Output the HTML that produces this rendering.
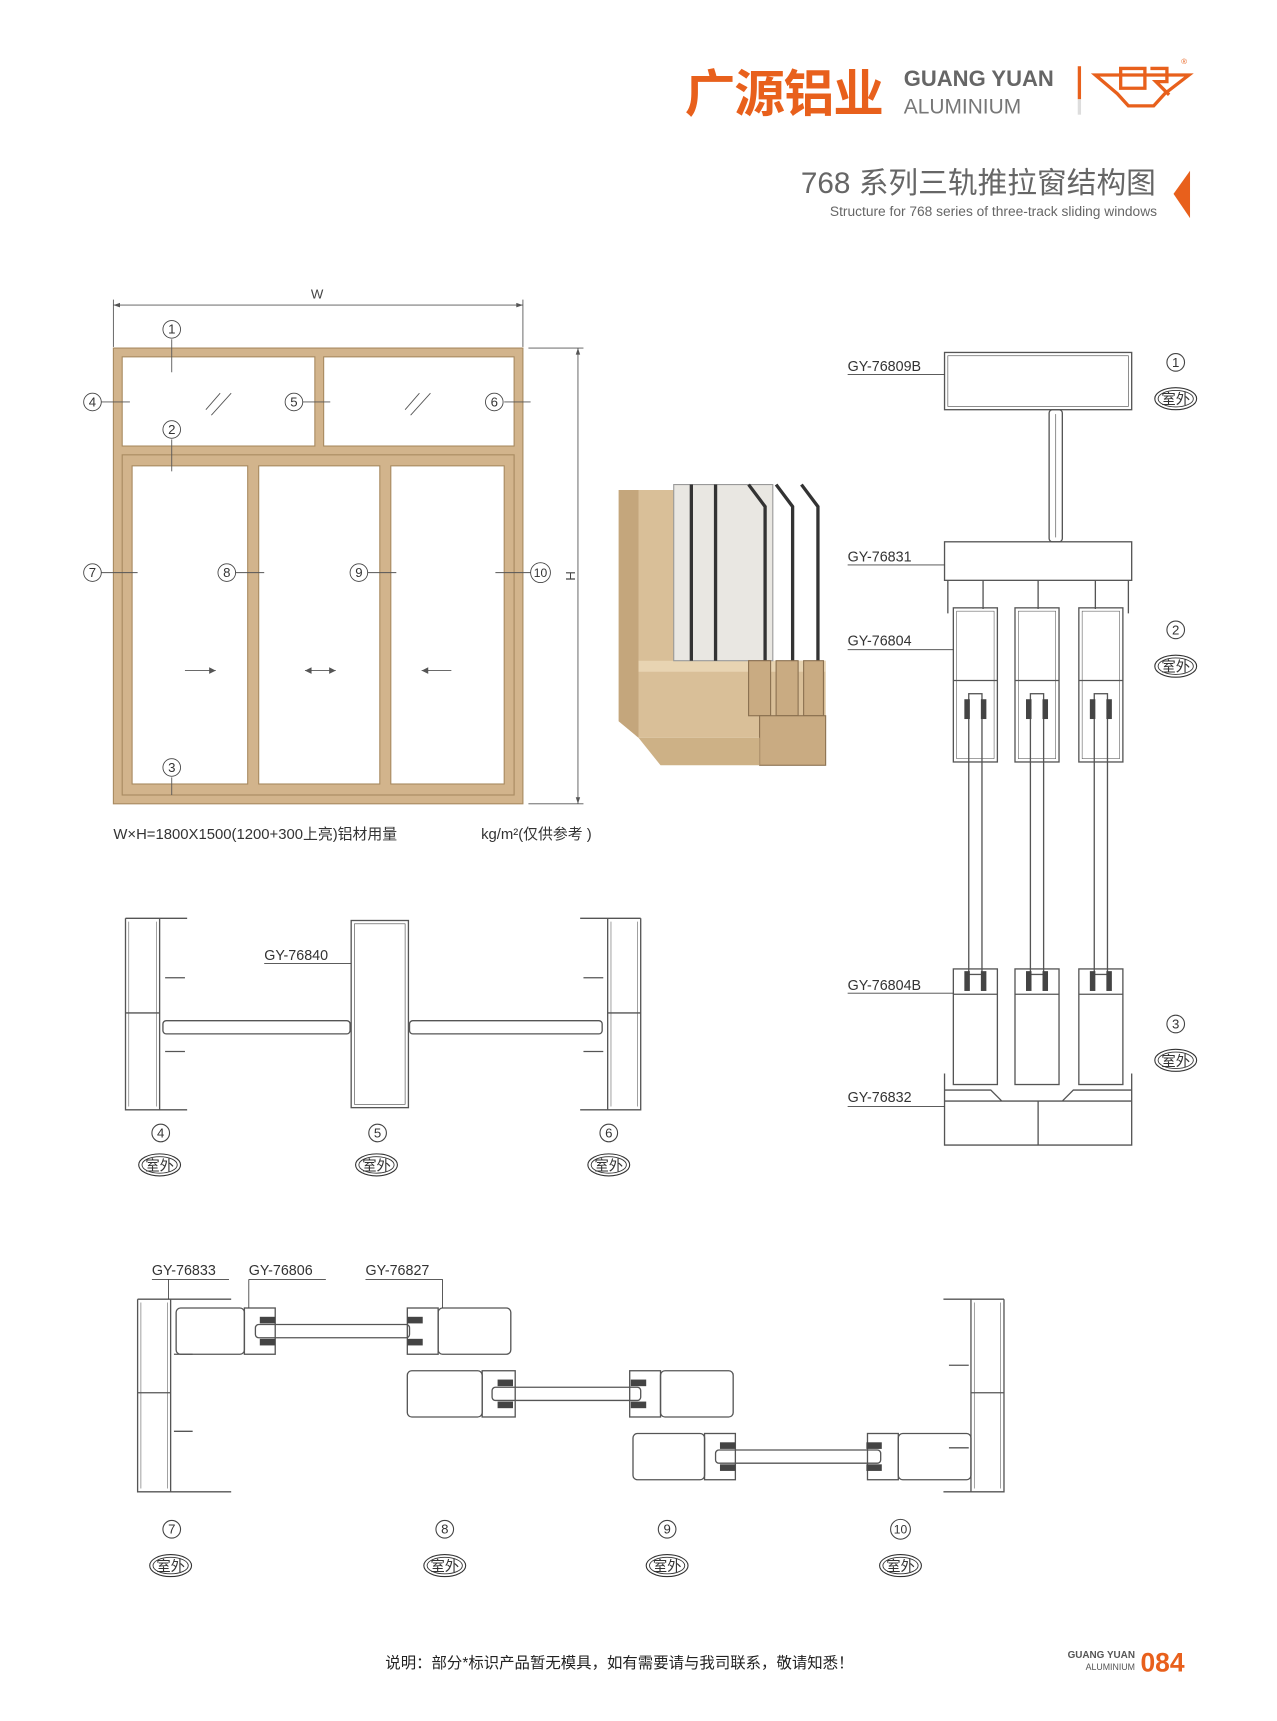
<!DOCTYPE html>
<html><head><meta charset="utf-8"><style>
html,body{margin:0;padding:0;background:#fff}
svg{display:block}
text{font-family:"Liberation Sans","Noto Sans CJK SC",sans-serif}
</style></head><body>
<svg width="1277" height="1721" viewBox="0 0 1160 1563" xmlns="http://www.w3.org/2000/svg">
<defs>
<g id="sw"><ellipse cx="0" cy="0" rx="19" ry="10" fill="#fff" stroke="#333" stroke-width="1"/><ellipse cx="0" cy="0" rx="16" ry="7.5" fill="none" stroke="#333" stroke-width="0.8"/><text x="0" y="5" font-size="13" text-anchor="middle" fill="#333">室外</text></g>
</defs>
<!-- header -->
<text x="622" y="101" font-size="46" font-weight="bold" fill="#e8601c" font-family="'Noto Sans CJK SC',sans-serif" letter-spacing="-1">广源铝业</text>
<text x="821" y="78" font-size="20" font-weight="bold" fill="#666">GUANG YUAN</text>
<text x="821" y="103" font-size="19" fill="#777">ALUMINIUM</text>
<rect x="979" y="60" width="3" height="30" fill="#e8601c"/><rect x="979" y="90" width="3" height="14" fill="#ddd"/>
<g fill="none" stroke="#e8601c" stroke-width="3"><path d="M995 68 L1080 68 L1058 85 L1048 96 L1025 96 L1015 85 Z"/><path d="M1018 62 L1040 62 L1040 80 L1018 80 Z"/><path d="M1045 62 L1060 62 L1060 74 L1050 74 L1062 86"/></g>
<text x="1073" y="58" font-size="7" fill="#e8601c">®</text>
<text x="1050" y="175" font-size="27" fill="#666" text-anchor="end">768 系列三轨推拉窗结构图</text>
<text x="1051" y="196" font-size="12.5" fill="#666" text-anchor="end">Structure for 768 series of  three-track sliding windows</text>
<path d="M1081 155 L1066 176 L1081 198 Z" fill="#e8601c"/>

<!-- elevation -->
<g stroke="#555" stroke-width="0.8" fill="none">
<line x1="103" y1="272" x2="103" y2="315"/><line x1="475" y1="272" x2="475" y2="315"/>
<line x1="103" y1="277" x2="475" y2="277"/>
<line x1="480" y1="316" x2="530" y2="316"/><line x1="480" y1="730" x2="530" y2="730"/>
<line x1="525" y1="316" x2="525" y2="730"/>
</g>
<path d="M103 277 l6 -2 v4z M475 277 l-6 -2 v4z M525 316 l-2 6 h4z M525 730 l-2 -6 h4z" fill="#555"/>
<text x="288" y="271" font-size="12" fill="#444" text-anchor="middle">W</text>
<text x="514" y="523" font-size="12" fill="#444" transform="rotate(90 514 523)" text-anchor="middle">H</text>
<rect x="103" y="316" width="372" height="414" fill="#d2b48c" stroke="#a88a60"/>
<rect x="111" y="324" width="175" height="81" fill="#fff" stroke="#a88a60"/>
<rect x="294" y="324" width="173" height="81" fill="#fff" stroke="#a88a60"/>
<rect x="111" y="413" width="356" height="309" fill="#d2b48c" stroke="#a88a60"/>
<rect x="120" y="423" width="105" height="289" fill="#fff" stroke="#a88a60"/>
<rect x="235" y="423" width="110" height="289" fill="#fff" stroke="#a88a60"/>
<rect x="355" y="423" width="103" height="289" fill="#fff" stroke="#a88a60"/>
<g stroke="#555" stroke-width="0.8"><line x1="187" y1="372" x2="200" y2="357"/><line x1="192" y1="377" x2="210" y2="357"/><line x1="368" y1="372" x2="381" y2="357"/><line x1="373" y1="377" x2="391" y2="357"/>
<line x1="92" y1="365" x2="118" y2="365"/><line x1="275" y1="365" x2="300" y2="365"/><line x1="458" y1="365" x2="482" y2="365"/>
<line x1="156" y1="308" x2="156" y2="338"/><line x1="156" y1="399" x2="156" y2="428"/><line x1="156" y1="706" x2="156" y2="722"/>
<line x1="92" y1="520" x2="125" y2="520"/><line x1="214" y1="520" x2="240" y2="520"/><line x1="334" y1="520" x2="360" y2="520"/><line x1="450" y1="520" x2="482" y2="520"/>
<line x1="168" y1="609" x2="196" y2="609"/><line x1="277" y1="609" x2="305" y2="609"/><line x1="383" y1="609" x2="410" y2="609"/></g>
<path d="M196 609 l-6 -3 v6z M277 609 l6 -3 v6z M305 609 l-6 -3 v6z M383 609 l6 -3 v6z" fill="#555"/>
<g font-size="12" fill="#333" text-anchor="middle">
<g fill="#fff" stroke="#444" stroke-width="0.8"><circle cx="156" cy="299" r="8"/><circle cx="84" cy="365" r="8"/><circle cx="267" cy="365" r="8"/><circle cx="449" cy="365" r="8"/><circle cx="156" cy="390" r="8"/><circle cx="84" cy="520" r="8"/><circle cx="206" cy="520" r="8"/><circle cx="326" cy="520" r="8"/><circle cx="491" cy="520" r="9"/><circle cx="156" cy="697" r="8"/></g>
<text x="156" y="303">1</text><text x="84" y="369">4</text><text x="267" y="369">5</text><text x="449" y="369">6</text><text x="156" y="394">2</text><text x="84" y="524">7</text><text x="206" y="524">8</text><text x="326" y="524">9</text><text x="491" y="524" font-size="11">10</text><text x="156" y="701">3</text>
</g>
<text x="103" y="762" font-size="13.5" fill="#333">W×H=1800X1500(1200+300上亮)铝材用量</text>
<text x="437" y="762" font-size="13.5" fill="#333">kg/m²(仅供参考 )</text>

<!-- 3D corner -->
<polygon points="562,445 612,445 612,600 750,600 750,670 580,670 562,655" fill="#d9bf98"/>
<polygon points="562,445 580,445 580,670 562,655" fill="#c4a67c"/>
<polygon points="580,600 750,600 750,610 580,610" fill="#e8d4b2"/>
<rect x="612" y="440" width="90" height="160" fill="#e9e7e2" stroke="#999"/>
<g fill="none" stroke="#333" stroke-width="3"><path d="M628 440 V600"/><path d="M650 440 V600"/><path d="M680 440 L695 460 V615"/><path d="M705 440 L720 460 V615"/><path d="M728 440 L743 460 V615"/></g>
<g fill="#c9ab82" stroke="#8a7050"><rect x="680" y="600" width="20" height="50"/><rect x="705" y="600" width="20" height="50"/><rect x="730" y="600" width="18" height="50"/><rect x="690" y="650" width="60" height="45"/></g>
<polygon points="580,670 690,670 690,695 600,695" fill="#cdb186"/>

<!-- right vertical section -->
<g fill="none" stroke="#555" stroke-width="1.2">
<rect x="858" y="320" width="170" height="52"/><rect x="861" y="323" width="164" height="46" stroke-width="0.6"/>
<rect x="953" y="372" width="12" height="120" rx="3"/><line x1="959" y1="376" x2="959" y2="488" stroke-width="0.6"/>
<rect x="858" y="492" width="170" height="35"/>
<path d="M861 527 V557 M1025 527 V557 M893 527 V553 M943 527 V553 M995 527 V553"/>
<rect x="866" y="552" width="40" height="140"/><rect x="922" y="552" width="40" height="140"/><rect x="980" y="552" width="40" height="140"/>
<rect x="869" y="555" width="34" height="134" stroke-width="0.5"/><rect x="925" y="555" width="34" height="134" stroke-width="0.5"/><rect x="983" y="555" width="34" height="134" stroke-width="0.5"/>
<path d="M866 618 H906 M922 618 H962 M980 618 H1020"/>
<rect x="880" y="630" width="12" height="255"/><rect x="936" y="630" width="12" height="255"/><rect x="994" y="630" width="12" height="255"/>
<rect x="866" y="880" width="40" height="105"/><rect x="922" y="880" width="40" height="105"/><rect x="980" y="880" width="40" height="105"/>
<path d="M866 903 H906 M922 903 H962 M980 903 H1020"/>
<path d="M858 975 V1040 H1028 V975 M858 1000 H1028 M943 1000 V1040 M858 990 H900 L910 1000 M1028 990 H975 L965 1000"/>
</g>
<g fill="#444"><rect x="876" y="635" width="5" height="18"/><rect x="891" y="635" width="5" height="18"/><rect x="932" y="635" width="5" height="18"/><rect x="947" y="635" width="5" height="18"/><rect x="990" y="635" width="5" height="18"/><rect x="1005" y="635" width="5" height="18"/>
<rect x="876" y="882" width="5" height="18"/><rect x="891" y="882" width="5" height="18"/><rect x="932" y="882" width="5" height="18"/><rect x="947" y="882" width="5" height="18"/><rect x="990" y="882" width="5" height="18"/><rect x="1005" y="882" width="5" height="18"/></g>
<g stroke="#444" stroke-width="0.8"><line x1="770" y1="340" x2="858" y2="340"/><line x1="770" y1="513" x2="858" y2="513"/><line x1="770" y1="590" x2="866" y2="590"/><line x1="770" y1="902" x2="866" y2="902"/><line x1="770" y1="1005" x2="858" y2="1005"/></g>
<g font-size="13" fill="#333"><text x="770" y="337">GY-76809B</text><text x="770" y="510">GY-76831</text><text x="770" y="586">GY-76804</text><text x="770" y="899">GY-76804B</text><text x="770" y="1001">GY-76832</text></g>
<g fill="none" stroke="#444"><circle cx="1068" cy="329" r="8"/><circle cx="1068" cy="572" r="8"/><circle cx="1068" cy="930" r="8"/></g>
<g font-size="12" fill="#333" text-anchor="middle"><text x="1068" y="333">1</text><text x="1068" y="576">2</text><text x="1068" y="934">3</text></g>
<use href="#sw" x="1068" y="362"/><use href="#sw" x="1068" y="605"/><use href="#sw" x="1068" y="963"/>

<!-- middle horizontal sections -->
<g fill="none" stroke="#555" stroke-width="1.2">
<path d="M114 834 H170 M114 834 V1008 H170 M145 834 V1008 M114 920 H145 M150 888 H168 M150 955 H168"/>
<path d="M117 837 V1005 M142 837 V1005" stroke-width="0.5"/>
<rect x="148" y="927" width="170" height="12" rx="3"/>
<rect x="319" y="836" width="52" height="170"/><rect x="322" y="839" width="46" height="164" stroke-width="0.6"/>
<rect x="372" y="927" width="175" height="12" rx="3"/>
<path d="M582 834 H527 M582 834 V1008 H527 M552 834 V1008 M552 920 H582 M530 888 H548 M530 955 H548"/>
<path d="M555 837 V1005 M579 837 V1005" stroke-width="0.5"/>
</g>
<line x1="240" y1="875" x2="319" y2="875" stroke="#444" stroke-width="0.8"/>
<text x="240" y="872" font-size="13" fill="#333">GY-76840</text>
<g fill="none" stroke="#444"><circle cx="146" cy="1029" r="8"/><circle cx="343" cy="1029" r="8"/><circle cx="553" cy="1029" r="8"/></g>
<g font-size="12" fill="#333" text-anchor="middle"><text x="146" y="1033">4</text><text x="343" y="1033">5</text><text x="553" y="1033">6</text></g>
<use href="#sw" x="145" y="1058"/><use href="#sw" x="342" y="1058"/><use href="#sw" x="553" y="1058"/>

<!-- bottom horizontal sections -->
<g fill="none" stroke="#555" stroke-width="1.2">
<path d="M125 1180 H210 M125 1180 V1355 H210 M155 1180 V1355 M125 1265 H155 M158 1230 H175 M158 1300 H175"/>
<path d="M128 1183 V1352 M152 1183 V1352" stroke-width="0.5"/>
<rect x="160" y="1188" width="62" height="42" rx="4"/><rect x="222" y="1188" width="28" height="42"/>
<rect x="232" y="1203" width="140" height="12" rx="3"/>
<rect x="370" y="1188" width="28" height="42"/><rect x="398" y="1188" width="66" height="42" rx="4"/>
<rect x="370" y="1245" width="68" height="42" rx="4"/><rect x="438" y="1245" width="30" height="42"/>
<rect x="447" y="1260" width="135" height="12" rx="3"/>
<rect x="572" y="1245" width="28" height="42"/><rect x="600" y="1245" width="66" height="42" rx="4"/>
<rect x="575" y="1302" width="65" height="42" rx="4"/><rect x="640" y="1302" width="28" height="42"/>
<rect x="650" y="1317" width="150" height="12" rx="3"/>
<rect x="788" y="1302" width="28" height="42"/><rect x="816" y="1302" width="66" height="42" rx="4"/>
<path d="M912 1180 H857 M912 1180 V1355 H857 M882 1180 V1355 M882 1265 H912 M862 1240 H880 M862 1315 H880"/>
<path d="M885 1183 V1352 M909 1183 V1352" stroke-width="0.5"/>
</g>
<g fill="#444"><rect x="236" y="1196" width="14" height="6"/><rect x="236" y="1216" width="14" height="6"/><rect x="370" y="1196" width="14" height="6"/><rect x="370" y="1216" width="14" height="6"/>
<rect x="452" y="1253" width="14" height="6"/><rect x="452" y="1273" width="14" height="6"/><rect x="573" y="1253" width="14" height="6"/><rect x="573" y="1273" width="14" height="6"/>
<rect x="654" y="1310" width="14" height="6"/><rect x="654" y="1330" width="14" height="6"/><rect x="787" y="1310" width="14" height="6"/><rect x="787" y="1330" width="14" height="6"/></g>
<g stroke="#444" stroke-width="0.8"><line x1="138" y1="1162" x2="208" y2="1162"/><line x1="226" y1="1162" x2="296" y2="1162"/><line x1="332" y1="1162" x2="402" y2="1162"/><line x1="153" y1="1162" x2="153" y2="1180"/><line x1="226" y1="1162" x2="226" y2="1188"/><line x1="402" y1="1162" x2="402" y2="1188"/></g>
<g font-size="13" fill="#333"><text x="138" y="1158">GY-76833</text><text x="226" y="1158">GY-76806</text><text x="332" y="1158">GY-76827</text></g>
<g fill="none" stroke="#444"><circle cx="156" cy="1389" r="8"/><circle cx="404" cy="1389" r="8"/><circle cx="606" cy="1389" r="8"/><circle cx="818" cy="1389" r="9"/></g>
<g font-size="12" fill="#333" text-anchor="middle"><text x="156" y="1393">7</text><text x="404" y="1393">8</text><text x="606" y="1393">9</text><text x="818" y="1393" font-size="11">10</text></g>
<use href="#sw" x="155" y="1422"/><use href="#sw" x="404" y="1422"/><use href="#sw" x="606" y="1422"/><use href="#sw" x="818" y="1422"/>

<!-- footer -->
<text x="350" y="1515" font-size="14" fill="#222">说明：部分*标识产品暂无模具，如有需要请与我司联系，敬请知悉！</text>
<text x="1031" y="1506" font-size="9" font-weight="bold" fill="#555" text-anchor="end">GUANG YUAN</text>
<text x="1031" y="1517" font-size="8" fill="#555" text-anchor="end">ALUMINIUM</text>
<text x="1036" y="1518" font-size="24" font-weight="bold" fill="#e8601c">084</text>
</svg>
</body></html>
